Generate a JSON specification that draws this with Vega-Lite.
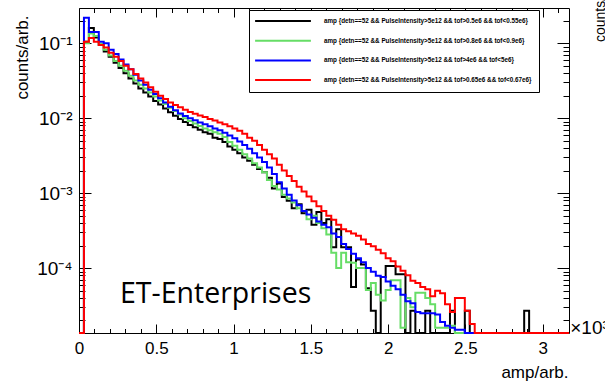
{
  "$schema": "https://vega.github.io/schema/vega-lite/v6.json",
  "width": 490,
  "height": 325,
  "autosize": {"type": "none"},
  "padding": {"left": 79, "top": 8, "right": 36, "bottom": 51},
  "background": "white",
  "datasets": {
    "hist": [
      {"s":"A","x":0,"y":1e-6},{"s":"A","x":0.032,"y":0.105},{"s":"A","x":0.064,"y":0.16},{"s":"A","x":0.096,"y":0.12},{"s":"A","x":0.128,"y":0.095},{"s":"A","x":0.16,"y":0.078},{"s":"A","x":0.192,"y":0.066},{"s":"A","x":0.224,"y":0.055},{"s":"A","x":0.256,"y":0.047},{"s":"A","x":0.288,"y":0.04},
      {"s":"A","x":0.32,"y":0.034},{"s":"A","x":0.352,"y":0.029},{"s":"A","x":0.384,"y":0.025},{"s":"A","x":0.416,"y":0.022},{"s":"A","x":0.448,"y":0.0195},{"s":"A","x":0.48,"y":0.017},{"s":"A","x":0.512,"y":0.0152},{"s":"A","x":0.544,"y":0.0135},{"s":"A","x":0.576,"y":0.012},{"s":"A","x":0.608,"y":0.0108},
      {"s":"A","x":0.64,"y":0.0098},{"s":"A","x":0.672,"y":0.0089},{"s":"A","x":0.704,"y":0.0081},{"s":"A","x":0.736,"y":0.0076},{"s":"A","x":0.768,"y":0.007},{"s":"A","x":0.8,"y":0.0065},{"s":"A","x":0.832,"y":0.0062},{"s":"A","x":0.864,"y":0.0055},{"s":"A","x":0.896,"y":0.0053},{"s":"A","x":0.928,"y":0.0048},
      {"s":"A","x":0.96,"y":0.0042},{"s":"A","x":0.992,"y":0.0038},{"s":"A","x":1.024,"y":0.0034},{"s":"A","x":1.056,"y":0.003},{"s":"A","x":1.088,"y":0.0027},{"s":"A","x":1.12,"y":0.0024},{"s":"A","x":1.152,"y":0.0021},{"s":"A","x":1.184,"y":0.0019},{"s":"A","x":1.216,"y":0.0016},{"s":"A","x":1.248,"y":0.00115},
      {"s":"A","x":1.28,"y":0.00135},{"s":"A","x":1.312,"y":0.00089},{"s":"A","x":1.344,"y":0.00079},{"s":"A","x":1.376,"y":0.00063},{"s":"A","x":1.408,"y":0.00071},{"s":"A","x":1.44,"y":0.00054},{"s":"A","x":1.472,"y":0.0006},{"s":"A","x":1.504,"y":0.00038},{"s":"A","x":1.536,"y":0.00056},{"s":"A","x":1.568,"y":0.0004},
      {"s":"A","x":1.6,"y":0.00045},{"s":"A","x":1.632,"y":0.00019},{"s":"A","x":1.664,"y":0.00033},{"s":"A","x":1.696,"y":0.00019},{"s":"A","x":1.728,"y":0.00019},{"s":"A","x":1.76,"y":0.000056},{"s":"A","x":1.792,"y":0.00013},{"s":"A","x":1.824,"y":0.000112},{"s":"A","x":1.856,"y":0.000054},{"s":"A","x":1.888,"y":0.000027},
      {"s":"A","x":1.92,"y":1e-6},{"s":"A","x":1.952,"y":0.000076},{"s":"A","x":1.984,"y":0.000107},{"s":"A","x":2.016,"y":0.000107},{"s":"A","x":2.048,"y":0.000083},{"s":"A","x":2.08,"y":0.000083},{"s":"A","x":2.112,"y":1e-6},{"s":"A","x":2.144,"y":0.000027},{"s":"A","x":2.176,"y":1e-6},{"s":"A","x":2.208,"y":1e-6},
      {"s":"A","x":2.24,"y":0.000027},{"s":"A","x":2.272,"y":1e-6},{"s":"A","x":2.304,"y":1e-6},{"s":"A","x":2.336,"y":1e-6},{"s":"A","x":2.368,"y":1e-6},{"s":"A","x":2.4,"y":0.000027},{"s":"A","x":2.432,"y":1e-6},{"s":"A","x":2.464,"y":1e-6},{"s":"A","x":2.496,"y":0.000027},{"s":"A","x":2.528,"y":1e-6},
      {"s":"A","x":2.56,"y":1e-6},{"s":"A","x":2.592,"y":1e-6},{"s":"A","x":2.624,"y":1e-6},{"s":"A","x":2.656,"y":1e-6},{"s":"A","x":2.688,"y":1e-6},{"s":"A","x":2.72,"y":1e-6},{"s":"A","x":2.752,"y":1e-6},{"s":"A","x":2.784,"y":1e-6},{"s":"A","x":2.816,"y":1e-6},{"s":"A","x":2.848,"y":1e-6},
      {"s":"A","x":2.88,"y":0.000027},{"s":"A","x":2.912,"y":1e-6},{"s":"A","x":2.944,"y":1e-6},{"s":"A","x":2.976,"y":1e-6},{"s":"A","x":3.008,"y":1e-6},{"s":"A","x":3.04,"y":1e-6},{"s":"A","x":3.072,"y":1e-6},{"s":"A","x":3.104,"y":1e-6},{"s":"A","x":3.136,"y":1e-6},{"s":"A","x":3.168,"y":1e-6},{"s":"A","x":3.17,"y":1e-6},

      {"s":"B","x":0,"y":1e-6},{"s":"B","x":0.032,"y":0.1},{"s":"B","x":0.064,"y":0.135},{"s":"B","x":0.096,"y":0.125},{"s":"B","x":0.128,"y":0.098},{"s":"B","x":0.16,"y":0.082},{"s":"B","x":0.192,"y":0.069},{"s":"B","x":0.224,"y":0.058},{"s":"B","x":0.256,"y":0.05},{"s":"B","x":0.288,"y":0.043},
      {"s":"B","x":0.32,"y":0.037},{"s":"B","x":0.352,"y":0.032},{"s":"B","x":0.384,"y":0.028},{"s":"B","x":0.416,"y":0.025},{"s":"B","x":0.448,"y":0.022},{"s":"B","x":0.48,"y":0.0195},{"s":"B","x":0.512,"y":0.0172},{"s":"B","x":0.544,"y":0.0155},{"s":"B","x":0.576,"y":0.0138},{"s":"B","x":0.608,"y":0.0125},
      {"s":"B","x":0.64,"y":0.0112},{"s":"B","x":0.672,"y":0.01},{"s":"B","x":0.704,"y":0.0092},{"s":"B","x":0.736,"y":0.0085},{"s":"B","x":0.768,"y":0.0079},{"s":"B","x":0.8,"y":0.0073},{"s":"B","x":0.832,"y":0.0069},{"s":"B","x":0.864,"y":0.0065},{"s":"B","x":0.896,"y":0.0062},{"s":"B","x":0.928,"y":0.0056},
      {"s":"B","x":0.96,"y":0.0048},{"s":"B","x":0.992,"y":0.0043},{"s":"B","x":1.024,"y":0.0038},{"s":"B","x":1.056,"y":0.0033},{"s":"B","x":1.088,"y":0.0029},{"s":"B","x":1.12,"y":0.0025},{"s":"B","x":1.152,"y":0.0022},{"s":"B","x":1.184,"y":0.0019},{"s":"B","x":1.216,"y":0.0015},{"s":"B","x":1.248,"y":0.00125},
      {"s":"B","x":1.28,"y":0.00112},{"s":"B","x":1.312,"y":0.00095},{"s":"B","x":1.344,"y":0.00085},{"s":"B","x":1.376,"y":0.00075},{"s":"B","x":1.408,"y":0.00063},{"s":"B","x":1.44,"y":0.00058},{"s":"B","x":1.472,"y":0.00045},{"s":"B","x":1.504,"y":0.0005},{"s":"B","x":1.536,"y":0.0004},{"s":"B","x":1.568,"y":0.00034},
      {"s":"B","x":1.6,"y":0.00028},{"s":"B","x":1.632,"y":0.00016},{"s":"B","x":1.664,"y":0.0001},{"s":"B","x":1.696,"y":0.00016},{"s":"B","x":1.728,"y":0.00012},{"s":"B","x":1.76,"y":0.000118},{"s":"B","x":1.792,"y":0.0001},{"s":"B","x":1.824,"y":0.0001},{"s":"B","x":1.856,"y":0.000051},{"s":"B","x":1.888,"y":0.000063},
      {"s":"B","x":1.92,"y":0.000044},{"s":"B","x":1.952,"y":0.000037},{"s":"B","x":1.984,"y":0.000051},{"s":"B","x":2.016,"y":0.000069},{"s":"B","x":2.048,"y":0.000069},{"s":"B","x":2.08,"y":0.000016},{"s":"B","x":2.112,"y":0.00004},{"s":"B","x":2.144,"y":0.00003},{"s":"B","x":2.176,"y":0.000047},{"s":"B","x":2.208,"y":0.000047},
      {"s":"B","x":2.24,"y":0.00004},{"s":"B","x":2.272,"y":0.000033},{"s":"B","x":2.304,"y":0.000016},{"s":"B","x":2.336,"y":0.000016},{"s":"B","x":2.368,"y":0.000016},{"s":"B","x":2.4,"y":0.000017},{"s":"B","x":2.432,"y":1e-6},{"s":"B","x":2.464,"y":1e-6},{"s":"B","x":2.496,"y":1e-6},{"s":"B","x":2.528,"y":1e-6},
      {"s":"B","x":2.56,"y":1e-6},{"s":"B","x":2.592,"y":1e-6},{"s":"B","x":2.624,"y":1e-6},{"s":"B","x":2.656,"y":1e-6},{"s":"B","x":2.688,"y":1e-6},{"s":"B","x":2.72,"y":1e-6},{"s":"B","x":2.752,"y":1e-6},{"s":"B","x":2.784,"y":1e-6},{"s":"B","x":2.816,"y":1e-6},{"s":"B","x":2.848,"y":1e-6},
      {"s":"B","x":2.88,"y":1e-6},{"s":"B","x":2.912,"y":1e-6},{"s":"B","x":2.944,"y":1e-6},{"s":"B","x":2.976,"y":1e-6},{"s":"B","x":3.008,"y":1e-6},{"s":"B","x":3.04,"y":1e-6},{"s":"B","x":3.072,"y":1e-6},{"s":"B","x":3.104,"y":1e-6},{"s":"B","x":3.136,"y":1e-6},{"s":"B","x":3.168,"y":1e-6},{"s":"B","x":3.17,"y":1e-6},

      {"s":"C","x":0,"y":1e-6},{"s":"C","x":0.032,"y":0.22},{"s":"C","x":0.064,"y":0.142},{"s":"C","x":0.096,"y":0.142},{"s":"C","x":0.128,"y":0.105},{"s":"C","x":0.16,"y":0.1},{"s":"C","x":0.192,"y":0.082},{"s":"C","x":0.224,"y":0.072},{"s":"C","x":0.256,"y":0.061},{"s":"C","x":0.288,"y":0.052},
      {"s":"C","x":0.32,"y":0.045},{"s":"C","x":0.352,"y":0.038},{"s":"C","x":0.384,"y":0.032},{"s":"C","x":0.416,"y":0.028},{"s":"C","x":0.448,"y":0.024},{"s":"C","x":0.48,"y":0.021},{"s":"C","x":0.512,"y":0.0185},{"s":"C","x":0.544,"y":0.0162},{"s":"C","x":0.576,"y":0.0142},{"s":"C","x":0.608,"y":0.0128},
      {"s":"C","x":0.64,"y":0.0116},{"s":"C","x":0.672,"y":0.0107},{"s":"C","x":0.704,"y":0.01},{"s":"C","x":0.736,"y":0.0094},{"s":"C","x":0.768,"y":0.0088},{"s":"C","x":0.8,"y":0.0083},{"s":"C","x":0.832,"y":0.0078},{"s":"C","x":0.864,"y":0.0073},{"s":"C","x":0.896,"y":0.0069},{"s":"C","x":0.928,"y":0.0064},
      {"s":"C","x":0.96,"y":0.0059},{"s":"C","x":0.992,"y":0.0054},{"s":"C","x":1.024,"y":0.0049},{"s":"C","x":1.056,"y":0.0044},{"s":"C","x":1.088,"y":0.0039},{"s":"C","x":1.12,"y":0.0034},{"s":"C","x":1.152,"y":0.003},{"s":"C","x":1.184,"y":0.0026},{"s":"C","x":1.216,"y":0.0022},{"s":"C","x":1.248,"y":0.0018},
      {"s":"C","x":1.28,"y":0.0014},{"s":"C","x":1.312,"y":0.00115},{"s":"C","x":1.344,"y":0.00095},{"s":"C","x":1.376,"y":0.0008},{"s":"C","x":1.408,"y":0.00069},{"s":"C","x":1.44,"y":0.00058},{"s":"C","x":1.472,"y":0.00052},{"s":"C","x":1.504,"y":0.00047},{"s":"C","x":1.536,"y":0.00042},{"s":"C","x":1.568,"y":0.00038},
      {"s":"C","x":1.6,"y":0.00035},{"s":"C","x":1.632,"y":0.00029},{"s":"C","x":1.664,"y":0.00026},{"s":"C","x":1.696,"y":0.00021},{"s":"C","x":1.728,"y":0.00018},{"s":"C","x":1.76,"y":0.000155},{"s":"C","x":1.792,"y":0.000135},{"s":"C","x":1.824,"y":0.00012},{"s":"C","x":1.856,"y":0.0001},{"s":"C","x":1.888,"y":0.000089},
      {"s":"C","x":1.92,"y":0.000079},{"s":"C","x":1.952,"y":0.000076},{"s":"C","x":1.984,"y":0.000066},{"s":"C","x":2.016,"y":0.000058},{"s":"C","x":2.048,"y":0.000052},{"s":"C","x":2.08,"y":0.000044},{"s":"C","x":2.112,"y":0.000036},{"s":"C","x":2.144,"y":0.000034},{"s":"C","x":2.176,"y":0.000026},{"s":"C","x":2.208,"y":0.000025},
      {"s":"C","x":2.24,"y":0.000025},{"s":"C","x":2.272,"y":0.000025},{"s":"C","x":2.304,"y":0.000024},{"s":"C","x":2.336,"y":0.000019},{"s":"C","x":2.368,"y":0.000017},{"s":"C","x":2.4,"y":0.000016},{"s":"C","x":2.432,"y":0.000015},{"s":"C","x":2.464,"y":0.000015},{"s":"C","x":2.496,"y":1e-6},{"s":"C","x":2.528,"y":1e-6},
      {"s":"C","x":2.56,"y":1e-6},{"s":"C","x":2.592,"y":1e-6},{"s":"C","x":2.624,"y":1e-6},{"s":"C","x":2.656,"y":1e-6},{"s":"C","x":2.688,"y":1e-6},{"s":"C","x":2.72,"y":1e-6},{"s":"C","x":2.752,"y":1e-6},{"s":"C","x":2.784,"y":1e-6},{"s":"C","x":2.816,"y":1e-6},{"s":"C","x":2.848,"y":1e-6},
      {"s":"C","x":2.88,"y":1e-6},{"s":"C","x":2.912,"y":1e-6},{"s":"C","x":2.944,"y":1e-6},{"s":"C","x":2.976,"y":1e-6},{"s":"C","x":3.008,"y":1e-6},{"s":"C","x":3.04,"y":1e-6},{"s":"C","x":3.072,"y":1e-6},{"s":"C","x":3.104,"y":1e-6},{"s":"C","x":3.136,"y":1e-6},{"s":"C","x":3.168,"y":1e-6},{"s":"C","x":3.17,"y":1e-6},

      {"s":"D","x":0,"y":1e-6},{"s":"D","x":0.032,"y":0.105},{"s":"D","x":0.064,"y":0.118},{"s":"D","x":0.096,"y":0.105},{"s":"D","x":0.128,"y":0.095},{"s":"D","x":0.16,"y":0.088},{"s":"D","x":0.192,"y":0.075},{"s":"D","x":0.224,"y":0.066},{"s":"D","x":0.256,"y":0.058},{"s":"D","x":0.288,"y":0.05},
      {"s":"D","x":0.32,"y":0.045},{"s":"D","x":0.352,"y":0.039},{"s":"D","x":0.384,"y":0.034},{"s":"D","x":0.416,"y":0.03},{"s":"D","x":0.448,"y":0.026},{"s":"D","x":0.48,"y":0.0225},{"s":"D","x":0.512,"y":0.02},{"s":"D","x":0.544,"y":0.018},{"s":"D","x":0.576,"y":0.0162},{"s":"D","x":0.608,"y":0.015},
      {"s":"D","x":0.64,"y":0.014},{"s":"D","x":0.672,"y":0.013},{"s":"D","x":0.704,"y":0.0121},{"s":"D","x":0.736,"y":0.0115},{"s":"D","x":0.768,"y":0.0109},{"s":"D","x":0.8,"y":0.0104},{"s":"D","x":0.832,"y":0.0098},{"s":"D","x":0.864,"y":0.0093},{"s":"D","x":0.896,"y":0.0088},{"s":"D","x":0.928,"y":0.0083},
      {"s":"D","x":0.96,"y":0.0078},{"s":"D","x":0.992,"y":0.0073},{"s":"D","x":1.024,"y":0.0068},{"s":"D","x":1.056,"y":0.0062},{"s":"D","x":1.088,"y":0.0055},{"s":"D","x":1.12,"y":0.005},{"s":"D","x":1.152,"y":0.0044},{"s":"D","x":1.184,"y":0.0038},{"s":"D","x":1.216,"y":0.0033},{"s":"D","x":1.248,"y":0.0029},
      {"s":"D","x":1.28,"y":0.0024},{"s":"D","x":1.312,"y":0.002},{"s":"D","x":1.344,"y":0.0017},{"s":"D","x":1.376,"y":0.00145},{"s":"D","x":1.408,"y":0.00122},{"s":"D","x":1.44,"y":0.00105},{"s":"D","x":1.472,"y":0.0009},{"s":"D","x":1.504,"y":0.00078},{"s":"D","x":1.536,"y":0.00067},{"s":"D","x":1.568,"y":0.00058},
      {"s":"D","x":1.6,"y":0.0005},{"s":"D","x":1.632,"y":0.00044},{"s":"D","x":1.664,"y":0.00038},{"s":"D","x":1.696,"y":0.00033},{"s":"D","x":1.728,"y":0.00031},{"s":"D","x":1.76,"y":0.00029},{"s":"D","x":1.792,"y":0.00027},{"s":"D","x":1.824,"y":0.00024},{"s":"D","x":1.856,"y":0.00021},{"s":"D","x":1.888,"y":0.000195},
      {"s":"D","x":1.92,"y":0.000175},{"s":"D","x":1.952,"y":0.000158},{"s":"D","x":1.984,"y":0.000135},{"s":"D","x":2.016,"y":0.000123},{"s":"D","x":2.048,"y":0.000105},{"s":"D","x":2.08,"y":0.000092},{"s":"D","x":2.112,"y":0.00008},{"s":"D","x":2.144,"y":0.000068},{"s":"D","x":2.176,"y":0.000063},{"s":"D","x":2.208,"y":0.000056},
      {"s":"D","x":2.24,"y":0.000052},{"s":"D","x":2.272,"y":0.000042},{"s":"D","x":2.304,"y":0.00005},{"s":"D","x":2.336,"y":0.000046},{"s":"D","x":2.368,"y":0.000033},{"s":"D","x":2.4,"y":0.000026},{"s":"D","x":2.432,"y":0.00004},{"s":"D","x":2.464,"y":0.00004},{"s":"D","x":2.496,"y":0.000027},{"s":"D","x":2.528,"y":0.000018},
      {"s":"D","x":2.56,"y":1e-6},{"s":"D","x":2.592,"y":1e-6},{"s":"D","x":2.624,"y":1e-6},{"s":"D","x":2.656,"y":1e-6},{"s":"D","x":2.688,"y":1e-6},{"s":"D","x":2.72,"y":1e-6},{"s":"D","x":2.752,"y":1e-6},{"s":"D","x":2.784,"y":1e-6},{"s":"D","x":2.816,"y":1e-6},{"s":"D","x":2.848,"y":1e-6},
      {"s":"D","x":2.88,"y":1e-6},{"s":"D","x":2.912,"y":1e-6},{"s":"D","x":2.944,"y":1e-6},{"s":"D","x":2.976,"y":1e-6},{"s":"D","x":3.008,"y":1e-6},{"s":"D","x":3.04,"y":1e-6},{"s":"D","x":3.072,"y":1e-6},{"s":"D","x":3.104,"y":1e-6},{"s":"D","x":3.136,"y":1e-6},{"s":"D","x":3.168,"y":1e-6},{"s":"D","x":3.17,"y":1e-6}
    ],
    "labels": [
      {"t":"ET-Enterprises","x":0.265,"y":0.0000341}
    ],
    "mult": [
      {"t":"×10³","x":3.178,"y":0.0000158}
    ],
    "nb": [
      {"t":"counts/arb.","x":3.402,"y":0.104}
    ]
  },
  "resolve": {"axis": {"x": "independent", "y": "independent"}},
  "layer": [
    {
      "data": {"name": "hist"},
      "transform": [{"filter": "datum.s == 'A'"}],
      "mark": {"type": "line", "interpolate": "step-after", "strokeWidth": 2},
      "encoding": {
        "x": {"field": "x", "type": "quantitative",
              "scale": {"domain": [0, 3.17], "nice": false, "zero": false},
              "axis": {"orient": "bottom", "values": [0, 0.5, 1, 1.5, 2, 2.5, 3], "format": "~g", "ticks": false, "labelPadding": 7, "labelFontSize": 17, "labelFlush": false, "labelOverlap": false,
                       "title": "amp/arb.", "titleFontSize": 17, "titleAnchor": "end", "titleAlign": "right", "titleBaseline": "alphabetic", "titleX": 489, "titleY": 44}},
        "y": {"field": "y", "type": "quantitative",
              "scale": {"type": "log", "domain": [0.0000136, 0.296], "nice": false, "clamp": true},
              "axis": {"orient": "left", "values": [0.0001, 0.001, 0.01, 0.1], "ticks": false, "labelPadding": 7, "labelFontSize": 19, "labelOverlap": false,
                       "labelExpr": "datum.value > 0.05 ? '10⁻¹' : datum.value > 0.005 ? '10⁻²' : datum.value > 0.0005 ? '10⁻³' : '10⁻⁴'",
                       "title": "counts/arb.", "titleFontSize": 17, "titleAngle": 270, "titleAlign": "right", "titleBaseline": "alphabetic", "titleX": -52, "titleY": 7}},
        "color": {"field": "s", "type": "nominal",
                  "scale": {"domain": ["A", "B", "C", "D"], "range": ["#000000", "#66dd66", "#0000ff", "#ff0000"]},
                  "legend": {"title": null, "orient": "none", "legendX": 170, "legendY": 2,
                             "symbolType": "M-9.3,0H9.3", "symbolSize": 36, "symbolStrokeWidth": 2, "symbolOffset": 23,
                             "labelOffset": 37, "labelFontSize": 6.3, "labelFont": "Liberation Sans", "labelFontWeight": "bold", "labelLimit": 400, "labelColor": "black",
                             "rowPadding": 11.7, "padding": 7, "strokeColor": "black", "fillColor": "white",
                             "labelExpr": "(datum.label == 'A' ? 'amp {detn==52 && PulseIntensity>5e12 && tof>0.5e6 && tof<0.55e6}' : datum.label == 'B' ? 'amp {detn==52 && PulseIntensity>5e12 && tof>0.8e6 && tof<0.9e6}' : datum.label == 'C' ? 'amp {detn==52 && PulseIntensity>5e12 && tof>4e6 && tof<5e6}' : 'amp {detn==52 && PulseIntensity>5e12 && tof>0.65e6 && tof<0.67e6}') + '\u00a0\u00a0\u00a0\u00a0\u00a0\u00a0\u00a0\u00a0\u00a0\u00a0\u00a0\u00a0\u00a0\u00a0'"}}
      }
    },
    {
      "data": {"name": "hist"},
      "transform": [{"filter": "datum.s == 'B'"}],
      "mark": {"type": "line", "interpolate": "step-after", "strokeWidth": 2},
      "encoding": {
        "x": {"field": "x", "type": "quantitative",
              "axis": {"orient": "bottom", "values": [0, 0.5, 1, 1.5, 2, 2.5, 3], "labels": false, "tickSize": -9, "title": null}},
        "y": {"field": "y", "type": "quantitative",
              "axis": {"orient": "left", "values": [0.0001, 0.001, 0.01, 0.1], "labels": false, "tickSize": -12, "title": null}},
        "color": {"field": "s", "type": "nominal"}
      }
    },
    {
      "data": {"name": "hist"},
      "transform": [{"filter": "datum.s == 'C'"}],
      "mark": {"type": "line", "interpolate": "step-after", "strokeWidth": 2},
      "encoding": {
        "x": {"field": "x", "type": "quantitative",
              "axis": {"orient": "bottom", "values": [0.1,0.2,0.3,0.4,0.6,0.7,0.8,0.9,1.1,1.2,1.3,1.4,1.6,1.7,1.8,1.9,2.1,2.2,2.3,2.4,2.6,2.7,2.8,2.9,3.1], "labels": false, "tickSize": -4.5, "title": null}},
        "y": {"field": "y", "type": "quantitative",
              "axis": {"orient": "left", "values": [0.00002,0.00003,0.00004,0.00005,0.00006,0.00007,0.00008,0.00009,0.0002,0.0003,0.0004,0.0005,0.0006,0.0007,0.0008,0.0009,0.002,0.003,0.004,0.005,0.006,0.007,0.008,0.009,0.02,0.03,0.04,0.05,0.06,0.07,0.08,0.09,0.2], "labels": false, "tickSize": -6, "title": null}},
        "color": {"field": "s", "type": "nominal"}
      }
    },
    {
      "data": {"name": "hist"},
      "transform": [{"filter": "datum.s == 'D'"}],
      "mark": {"type": "line", "interpolate": "step-after", "strokeWidth": 2},
      "encoding": {
        "x": {"field": "x", "type": "quantitative",
              "axis": {"orient": "top", "values": [0, 0.5, 1, 1.5, 2, 2.5, 3], "labels": false, "tickSize": -9, "title": null}},
        "y": {"field": "y", "type": "quantitative",
              "axis": {"orient": "right", "values": [0.0001, 0.001, 0.01, 0.1], "labels": false, "tickSize": -12, "title": null}},
        "color": {"field": "s", "type": "nominal"}
      }
    },
    {
      "data": {"name": "labels"},
      "mark": {"type": "text", "align": "left", "baseline": "alphabetic", "font": "Open Sans", "fontSize": 28.5, "color": "black"},
      "encoding": {
        "x": {"field": "x", "type": "quantitative",
              "axis": {"orient": "top", "values": [0.1,0.2,0.3,0.4,0.6,0.7,0.8,0.9,1.1,1.2,1.3,1.4,1.6,1.7,1.8,1.9,2.1,2.2,2.3,2.4,2.6,2.7,2.8,2.9,3.1], "labels": false, "tickSize": -4.5, "title": null}},
        "y": {"field": "y", "type": "quantitative",
              "axis": {"orient": "right", "values": [0.00002,0.00003,0.00004,0.00005,0.00006,0.00007,0.00008,0.00009,0.0002,0.0003,0.0004,0.0005,0.0006,0.0007,0.0008,0.0009,0.002,0.003,0.004,0.005,0.006,0.007,0.008,0.009,0.02,0.03,0.04,0.05,0.06,0.07,0.08,0.09,0.2], "labels": false, "tickSize": -6, "title": null}},
        "text": {"field": "t"}
      }
    },
    {
      "data": {"name": "mult"},
      "mark": {"type": "text", "align": "left", "baseline": "middle", "font": "Liberation Sans", "fontSize": 19, "color": "black"},
      "encoding": {
        "x": {"field": "x", "type": "quantitative", "axis": null},
        "y": {"field": "y", "type": "quantitative", "axis": null},
        "text": {"field": "t"}
      }
    },
    {
      "data": {"name": "nb"},
      "mark": {"type": "text", "align": "left", "baseline": "alphabetic", "angle": 270, "font": "Liberation Sans", "fontSize": 14, "color": "black"},
      "encoding": {
        "x": {"field": "x", "type": "quantitative", "axis": null},
        "y": {"field": "y", "type": "quantitative", "axis": null},
        "text": {"field": "t"}
      }
    }
  ],
  "config": {
    "view": {"stroke": "black", "strokeWidth": 1},
    "font": "Liberation Sans",
    "axis": {"grid": false, "domain": false, "tickColor": "black", "tickWidth": 1, "labelColor": "black", "titleColor": "black", "labelFont": "Liberation Sans", "titleFont": "Liberation Sans", "titleFontWeight": "normal"}
  }
}
